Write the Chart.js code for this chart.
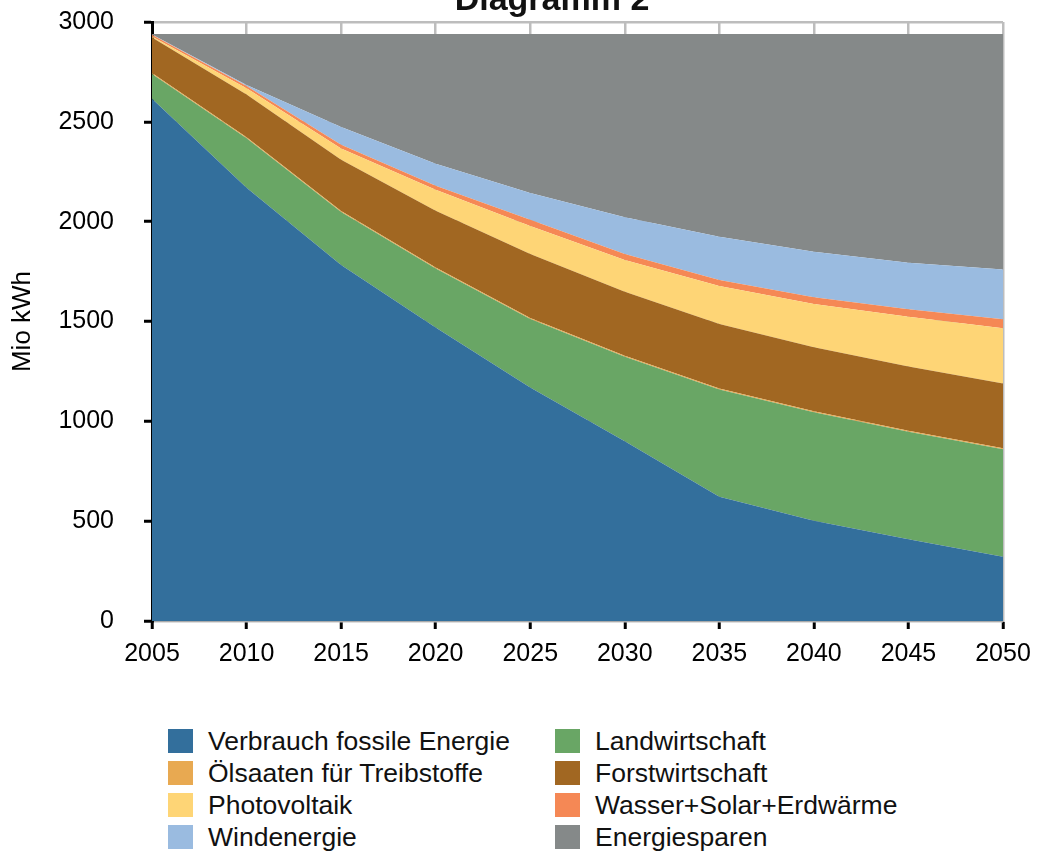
<!DOCTYPE html>
<html lang="de">
<head>
<meta charset="utf-8">
<title>Diagramm 2</title>
<script src="https://cdn.jsdelivr.net/npm/chart.js@4.4.1/dist/chart.umd.min.js"></script>
<style>
  html, body { margin: 0; padding: 0; background: #fff; }
  #wrap { position: relative; width: 1037px; height: 851px; overflow: hidden; }
  #c { position: absolute; left: 0; top: 0; }
  .lg-item { position: absolute; height: 24px; font: 26.5px "Liberation Sans", Arial, Helvetica, sans-serif; color: #111; white-space: nowrap; }
  .lg-box { position: absolute; left: 0; top: 0; width: 25px; height: 24px; }
  .lg-text { position: absolute; left: 40px; top: -3px; line-height: 30px; }
</style>
</head>
<body>
<div id="wrap">
  <canvas id="c" width="1037" height="700"></canvas>
  <div id="legend"></div>
</div>
<script>
// Jahre (x-Achse)
const years = ['2005', '2010', '2015', '2020', '2025', '2030', '2035', '2040', '2045', '2050'];

// Werte in Mio kWh, von unten nach oben gestapelt
const fossil       = [2615, 2170, 1783, 1470, 1170,  900,  622,  502,  409,  322];
const landwirt     = [ 124,  248,  265,  295,  342,  424,  538,  543,  539,  538];
const oelsaaten    = [   5,    5,    5,    5,    5,    5,    5,    5,    5,    5];
const forstwirt    = [ 178,  214,  257,  285,  321,  320,  322,  321,  321,  325];
const photovoltaik = [   6,   31,   56,  105,  140,  159,  191,  217,  250,  276];
const wasserSolar  = [   8,   12,   19,   20,   32,   30,   30,   33,   37,   45];
const wind         = [   2,    5,   89,  110,  133,  184,  217,  228,  233,  250];
const sparen       = [   2,  255,  466,  650,  797,  918, 1015, 1091, 1146, 1179];

// Beschriftung der y-Achse
const yTicks = [0, 500, 1000, 1500, 2000, 2500, 3000];

const seriesNames = [
  'Verbrauch fossile Energie', 'Landwirtschaft', 'Ölsaaten für Treibstoffe', 'Forstwirtschaft',
  'Photovoltaik', 'Wasser+Solar+Erdwärme', 'Windenergie', 'Energiesparen'
];
const seriesValues = [fossil, landwirt, oelsaaten, forstwirt, photovoltaik, wasserSolar, wind, sparen];
const seriesColors = ['#336f9c', '#69a665', '#e8a951', '#a16722', '#fed576', '#f58855', '#9abbe0', '#858989'];

const FONT = '"Liberation Sans", Arial, Helvetica, sans-serif';

const datasets = seriesNames.map((name, i) => ({
  label: name,
  data: seriesValues[i],
  backgroundColor: seriesColors[i],
  borderColor: 'rgba(0,0,0,0)',
  borderWidth: 0,
  pointRadius: 0,
  pointHoverRadius: 0,
  pointHitRadius: 0,
  tension: 0,
  fill: i === 0 ? 'origin' : '-1'
}));

// Überschrift oben mittig
const titlePlugin = {
  id: 'diagramTitle',
  afterDraw(chart) {
    const ctx = chart.ctx;
    ctx.save();
    ctx.font = 'bold 34px ' + FONT;
    ctx.fillStyle = '#111';
    ctx.textAlign = 'center';
    ctx.textBaseline = 'alphabetic';
    ctx.fillText('Diagramm 2', 552, 10);
    ctx.restore();
  }
};

const chart = new Chart(document.getElementById('c'), {
  type: 'line',
  data: { labels: years, datasets },
  plugins: [titlePlugin],
  options: {
    responsive: false,
    animation: false,
    devicePixelRatio: 1,
    layout: { padding: { top: 22, right: 34, left: 0, bottom: 0 } },
    plugins: {
      legend: { display: false },
      tooltip: { enabled: false },
      title: { display: false }
    },
    elements: { line: { borderWidth: 0 } },
    scales: {
      x: {
        type: 'category',
        offset: false,
        grid: {
          offset: false,
          color: '#bdbdbd',
          lineWidth: 2.5,
          tickColor: '#000',
          tickWidth: 3,
          tickLength: 8
        },
        border: { color: '#aaaaaa', width: 1 },
        ticks: {
          color: '#000',
          font: { family: FONT, size: 25 },
          padding: 10,
          maxRotation: 0,
          autoSkip: false
        },
        afterFit(scale) {
          scale.height = 700 - 621;
          scale.paddingLeft = 0;
          scale.paddingRight = 0;
        }
      },
      y: {
        stacked: true,
        min: 0,
        max: 3000,
        afterBuildTicks(scale) { scale.ticks = yTicks.map(v => ({ value: v })); },
        grid: {
          color: '#bdbdbd',
          lineWidth: 2.5,
          tickColor: '#000',
          tickWidth: 3,
          tickLength: 8
        },
        border: { color: '#000', width: 3 },
        ticks: {
          color: '#000',
          font: { family: FONT, size: 25 },
          padding: 30,
          callback: (v) => String(v)
        },
        title: {
          display: true,
          text: 'Mio kWh',
          color: '#000',
          font: { family: FONT, size: 26 },
          padding: { top: 7, bottom: 0 }
        },
        afterFit(scale) {
          scale.width = 152;
          scale.paddingTop = 0;
          scale.paddingBottom = 0;
        }
      }
    }
  }
});

// Legende in zwei Spalten, zeilenweise gefüllt
const legend = document.getElementById('legend');
const colLeft = [168, 555];
const rowTop = [729, 761, 793, 825];
chart.data.datasets.forEach((ds, i) => {
  const item = document.createElement('div');
  item.className = 'lg-item';
  item.style.left = colLeft[i % 2] + 'px';
  item.style.top = rowTop[Math.floor(i / 2)] + 'px';
  const box = document.createElement('div');
  box.className = 'lg-box';
  box.style.background = ds.backgroundColor;
  const text = document.createElement('span');
  text.className = 'lg-text';
  text.textContent = ds.label;
  item.appendChild(box);
  item.appendChild(text);
  legend.appendChild(item);
});
</script>
</body>
</html>
